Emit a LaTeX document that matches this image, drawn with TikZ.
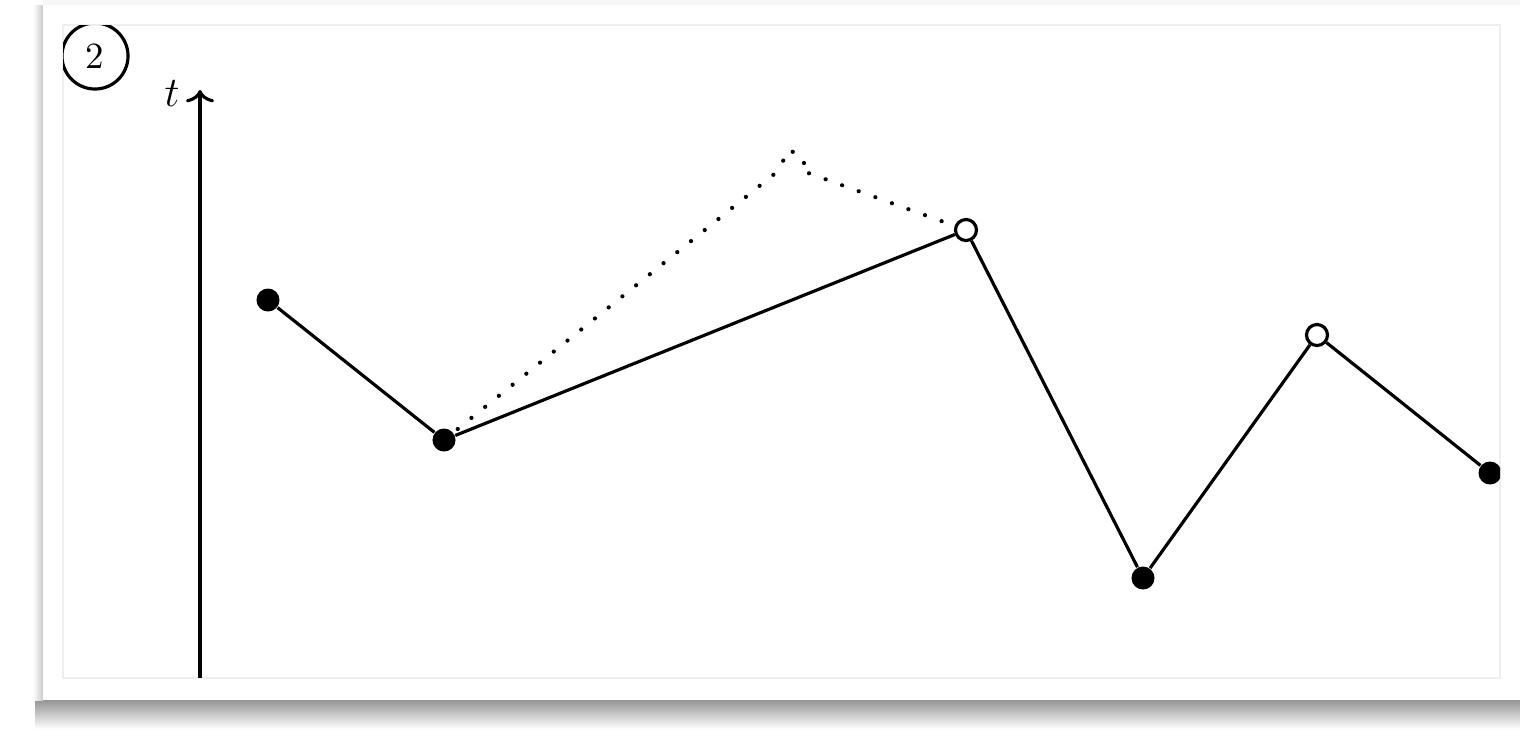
\documentclass[tikz,border=0pt]{standalone}
\usepackage{amsmath}
\usepackage{tikz}
\usetikzlibrary{positioning,arrows.meta}
\definecolor{CardLine}{HTML}{EEEEEE}
\definecolor{CardShade}{HTML}{959595}
\definecolor{CardEdge}{HTML}{C8C8C8}

\begin{document}
\begin{tikzpicture}[x=0.01cm,y=-0.01cm,
    fullpt/.style={circle,fill=black,inner sep=0pt,minimum size=0.23cm},
    openpt/.style={circle,draw=black,fill=white,line width=0.9pt,inner sep=0pt,minimum size=0.21cm},
    seg/.style={line width=0.9pt,black}]
    \useasboundingbox (0,0) rectangle (1520,729);
    % card with shadow
    \fill[white] (0,0) rectangle (1520,729);
    \shade[top color=CardShade,bottom color=white] (35,700) rectangle (1520,729);
    \shade[left color=white,right color=CardEdge] (33,5) rectangle (43,700);
    \fill[gray!6] (43,0) rectangle (1520,5);
    \fill[white] (43,5) rectangle (1520,700);
    \draw[CardLine,line width=0.3pt] (63,25) rectangle (1500,678);
    \begin{scope}
      \clip (63,25) rectangle (1500,678);
      \node[circle,draw,line width=0.9pt,minimum size=0.66cm,inner sep=0pt,
        font=\fontsize{10.5}{12}\selectfont] (step) at (95,56) {2};
      % time axis
      \coordinate (ax0) at (200,678);
      \coordinate (ax1) at (200,90);
      \draw[line width=0.9pt,-{To[length=3.5pt,width=8pt]}] (ax0) -- (ax1);
      \node[font=\fontsize{12}{14}\selectfont] (tlab) at (172,94) {$t$};
      % points
      \node[fullpt] (p1) at (268,300) {};
      \node[fullpt] (p2) at (444,440) {};
      \node[openpt] (p3) at (966,230) {};
      \node[fullpt] (p4) at (1143,578) {};
      \node[openpt] (p5) at (1317,335) {};
      \node[fullpt] (p6) at (1490,473) {};
      % old path before the move
      \coordinate (up) at (778,171);
      \coordinate (peak) at (789,149);
      \coordinate (kink) at (805,161);
      \coordinate (back) at (800,170);
      \draw[line width=1.2pt,line cap=round,dash pattern=on 0.01pt off 5pt]
        (p2.center) -- (up) -- (peak) -- (kink) -- (back) -- (p3);
      \draw[seg] (p1) -- (p2) -- (p3) -- (p4) -- (p5) -- (p6);
    \end{scope}
  \end{tikzpicture}
\end{document}
